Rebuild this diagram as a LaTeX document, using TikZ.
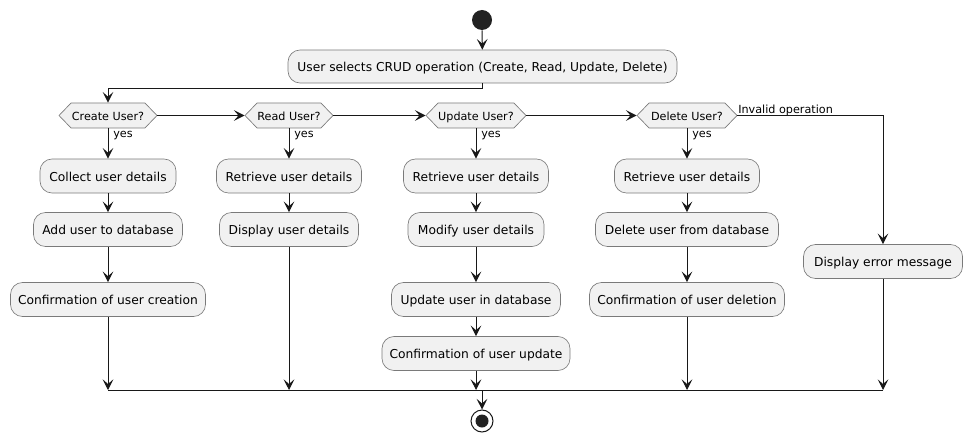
\documentclass[tikz,border=0pt]{standalone}
\usepackage{fontspec}
\setmainfont{DejaVu Sans}
\usetikzlibrary{arrows.meta,shapes.symbols}
\definecolor{boxfill}{HTML}{F1F1F1}
\definecolor{ink}{HTML}{181818}
\definecolor{edge}{HTML}{7A7A7A}
\definecolor{dot}{HTML}{222222}
\begin{document}
\begin{tikzpicture}[x=0.75pt,y=-0.75pt,
  act/.style={rectangle, rounded corners=9pt, draw=edge, line width=0.5pt, fill=boxfill,
    minimum height=34*0.75pt, inner sep=0pt, text height=7.5pt, text depth=0pt,
    font=\fontsize{9.2}{11}\selectfont, text=black},
  wd/.style={minimum width=#1*0.75pt},
  dec/.style={signal, signal to=west and east, signal pointer angle=92, draw=edge,
    line width=0.5pt, fill=boxfill, minimum height=25*0.75pt, inner sep=0pt,
    text height=7pt, text depth=0pt,
    font=\fontsize{8.4}{10}\selectfont, text=black},
  flow/.style={draw=ink, line width=0.75pt, -{Stealth[length=8pt,width=8pt,inset=3.5pt]}},
  line/.style={draw=ink, line width=0.75pt},
  lbl/.style={font=\fontsize{8.4}{10}\selectfont, inner sep=0pt, anchor=west, text=black}
]
\useasboundingbox (0,0) rectangle (973,442);

% start / end
\node[circle, fill=dot, minimum size=20*0.75pt, inner sep=0pt] (start) at (482,20) {};
\node[circle, draw=ink, line width=0.75pt, fill=white, minimum size=22*0.75pt, inner sep=0pt] (end) at (482,421) {};
\node[circle, fill=dot, minimum size=13*0.75pt, inner sep=0pt] (endin) at (482,421) {};

% top action
\node[act, wd=389, minimum height=33*0.75pt] (top) at (482.5,66.5) {User selects CRUD operation (Create, Read, Update, Delete)};

% decisions
\node[dec, wd=98]  (dc) at (108,115.5) {Create User?};
\node[dec, wd=88]  (dr) at (289,115.5) {Read User?};
\node[dec, wd=100] (du) at (476,115.5) {Update User?};
\node[dec, wd=100] (dd) at (687,115.5) {Delete User?};

% create column
\node[act, wd=136] (c1) at (108,176) {Collect user details};
\node[act, wd=149] (c2) at (108,229.5) {Add user to database};
\node[act, wd=195] (c3) at (108,299.5) {Confirmation of user creation};

% read column
\node[act, wd=145] (r1) at (289,176) {Retrieve user details};
\node[act, wd=139] (r2) at (289,229.5) {Display user details};

% update column
\node[act, wd=145] (u1) at (476,176) {Retrieve user details};
\node[act, wd=136] (u2) at (476,229.5) {Modify user details};
\node[act, wd=169] (u3) at (476,299.5) {Update user in database};
\node[act, wd=188] (u4) at (476,353.5) {Confirmation of user update};

% delete column
\node[act, wd=145] (d1) at (687,176) {Retrieve user details};
\node[act, wd=183] (d2) at (687,229.5) {Delete user from database};
\node[act, wd=195] (d3) at (687,299.5) {Confirmation of user deletion};

% error
\node[act, wd=159] (err) at (883,261.5) {Display error message};

% labels
\node[lbl] (y1) at (113,136) {yes};
\node[lbl] (y2) at (294,136) {yes};
\node[lbl] (y3) at (481,136) {yes};
\node[lbl] (y4) at (692,136) {yes};
\node[lbl] (inv) at (738,110) {Invalid operation};

% merge coordinates
\coordinate (m1) at (108,390);
\coordinate (m2) at (289,390);
\coordinate (m3) at (476,390);
\coordinate (m4) at (687,390);
\coordinate (m5) at (883,390);
\coordinate (mc) at (482,390);

% connectors
\draw[flow] (start) -- (top);
\draw[flow] (top.south) -- ++(0,5) -| (dc.north);
\draw[flow] (dc.east) -- (dr.west);
\draw[flow] (dr.east) -- (du.west);
\draw[flow] (du.east) -- (dd.west);
\draw[flow] (dd.east) -| (err.north);

\draw[flow] (dc.south) -- (c1.north);
\draw[flow] (c1.south) -- (c2.north);
\draw[flow] (c2.south) -- (c3.north);
\draw[flow] (c3.south) -- (m1);

\draw[flow] (dr.south) -- (r1.north);
\draw[flow] (r1.south) -- (r2.north);
\draw[flow] (r2.south) -- (m2);

\draw[flow] (du.south) -- (u1.north);
\draw[flow] (u1.south) -- (u2.north);
\draw[flow] (u2.south) -- (u3.north);
\draw[flow] (u3.south) -- (u4.north);
\draw[flow] (u4.south) -- (m3);

\draw[flow] (dd.south) -- (d1.north);
\draw[flow] (d1.south) -- (d2.north);
\draw[flow] (d2.south) -- (d3.north);
\draw[flow] (d3.south) -- (m4);

\draw[flow] (err.south) -- (m5);

\draw[line] (m1) -- (m5);
\draw[flow] (mc) -- (end.north);
\end{tikzpicture}
\end{document}
